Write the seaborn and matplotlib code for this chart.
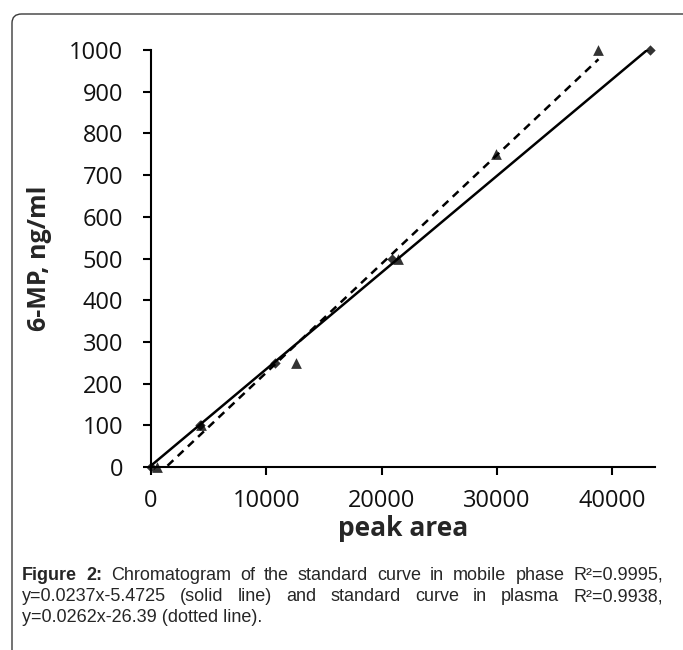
import numpy as np
import pandas as pd
import matplotlib
matplotlib.use("Agg")
import matplotlib.pyplot as plt
from matplotlib.patches import FancyBboxPatch
import seaborn as sns

# standard curve data (peak area vs concentration)
mobile_area = [0, 4250, 10750, 20900, 43250]
mobile_conc = [0, 100, 250, 500, 1000]
plasma_area = [550, 4300, 12550, 21400, 29950, 38800]
plasma_conc = [0, 100, 250, 500, 750, 1000]

x_ticks = [0, 10000, 20000, 30000, 40000]
y_ticks = list(range(0, 1001, 100))

caption_line1 = [("Figure", "bold"), ("2:", "bold"), ("Chromatogram", "normal"), ("of", "normal"),
                 ("the", "normal"), ("standard", "normal"), ("curve", "normal"), ("in", "normal"),
                 ("mobile", "normal"), ("phase", "normal"), ("R²=0.9995,", "normal")]
caption_line2 = [("y=0.0237x-5.4725", "normal"), ("(solid", "normal"), ("line)", "normal"),
                 ("and", "normal"), ("standard", "normal"), ("curve", "normal"), ("in", "normal"),
                 ("plasma", "normal"), ("R²=0.9938,", "normal")]
caption_line3 = "y=0.0262x-26.39 (dotted line)."

sns.set_style("ticks")
plt.rcParams["font.family"] = ["Open Sans", "DejaVu Sans"]

mobile = pd.DataFrame({"area": mobile_area, "conc": mobile_conc})
plasma = pd.DataFrame({"area": plasma_area, "conc": plasma_conc})

fig = plt.figure(figsize=(6.83, 6.5), dpi=100)
ax = fig.add_axes([151 / 683, 1 - 467 / 650, (655 - 151) / 683, (467 - 50) / 650])

sns.regplot(data=mobile, x="area", y="conc", ax=ax, ci=None, color="black", marker="D",
            scatter_kws={"s": 28, "clip_on": False, "zorder": 4, "linewidths": 0},
            line_kws={"lw": 1.8, "zorder": 3})
sns.regplot(data=plasma, x="area", y="conc", ax=ax, ci=None, color="black", marker="^",
            scatter_kws={"s": 60, "clip_on": False, "zorder": 4, "linewidths": 0},
            line_kws={"lw": 1.8, "dashes": (3.2, 2.4), "zorder": 3})

ax.set_xlim(0, 43700)
ax.set_ylim(0, 1000)
ax.set_xticks(x_ticks)
ax.set_yticks(y_ticks)
ax.tick_params(axis="both", labelsize=17, length=6, width=1.5, color="black", labelcolor="#111111")
ax.tick_params(axis="y", pad=14)
ax.tick_params(axis="x", pad=10)
for side in ["left", "bottom"]:
    ax.spines[side].set_linewidth(1.5)
    ax.spines[side].set_color("black")
sns.despine(ax=ax)

ax.set_xlabel("peak area", fontsize=19, fontweight="bold")
ax.set_ylabel("6-MP, ng/ml", fontsize=18, fontweight="bold")
ax.xaxis.set_label_coords(0.5, -(528 - 467) / 417)
ax.yaxis.set_label_coords(-(151 - 40) / 504, 0.5)
ax.xaxis.label.set_va("center")
ax.yaxis.label.set_va("center")

# rounded frame around the figure
frame = FancyBboxPatch((12 / 683, -0.03), 1.05, 1.03 - 14 / 650, transform=fig.transFigure,
                       boxstyle="round,pad=0,rounding_size=0.014", fill=False,
                       edgecolor="#3a3a3a", lw=1.0)
fig.patches.append(frame)

# caption, first two lines justified
cap_font = ["Liberation Sans", "DejaVu Sans"]
cap_size = 13
left, right = 22 / 683, 663 / 683
renderer = fig.canvas.get_renderer()


def justified(words, y):
    texts = [fig.text(0, y, w, fontsize=cap_size, fontweight=wt, family=cap_font, va="baseline")
             for w, wt in words]
    widths = [t.get_window_extent(renderer).width / 683 for t in texts]
    gap = (right - left - sum(widths)) / (len(words) - 1)
    x = left
    for t, w in zip(texts, widths):
        t.set_x(x)
        x += w + gap


justified(caption_line1, 1 - 580 / 650)
justified(caption_line2, 1 - 601 / 650)
fig.text(left, 1 - 622 / 650, caption_line3, fontsize=cap_size, family=cap_font, va="baseline")

fig.savefig("out.png", dpi=100)
